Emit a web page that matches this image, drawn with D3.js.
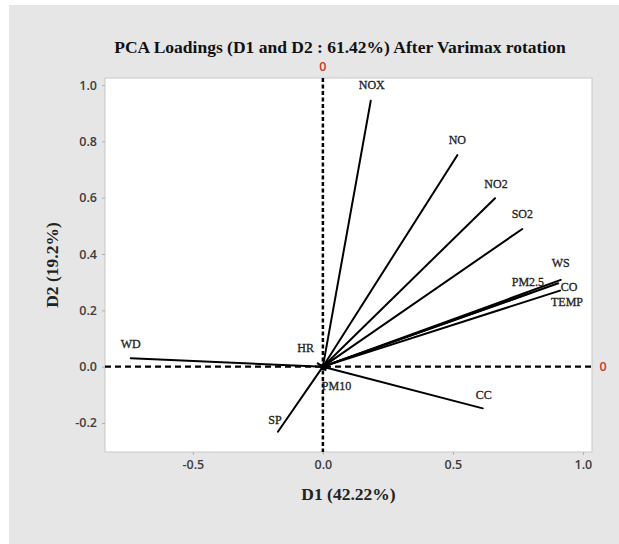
<!DOCTYPE html>
<html><head><meta charset="utf-8">
<script src="https://cdn.jsdelivr.net/npm/d3@7"></script>
<style>body{margin:0;background:#fff;}</style>
</head><body>
<svg id="c" width="619" height="544"></svg>
<script>
const variables = ["NOX","NO","NO2","SO2","WS","CO","PM2.5","TEMP","WD","HR","PM10","SP","CC"];
const d1Loadings = [0.184, 0.517, 0.662, 0.767, 0.915, 0.905, 0.80, 0.912, -0.739, -0.02, 0.01, -0.173, 0.615];
const d2Loadings = [0.944, 0.751, 0.598, 0.489, 0.308, 0.296, 0.262, 0.270, 0.030, 0.012, -0.012, -0.231, -0.148];
const xTicks = [-0.5, 0.0, 0.5, 1.0];
const yTicks = [-0.2, 0.0, 0.2, 0.4, 0.6, 0.8, 1.0];
// label offsets (px) relative to vector end
const labelOffsets = [[1,-16],[0,-15],[1,-14],[0,-15],[0,-17],[11,4],[-3,-11],[7,11],[0,-14],[-12,-15],[11,16],[-3,-12],[1,-13]];

const svg = d3.select("#c");
svg.append("rect").attr("x",9).attr("y",5).attr("width",610).attr("height",539).attr("fill","#e6e6e6");

const L=105, R=592, T=78, B=452;
const x = d3.scaleLinear().domain([-0.838,1.035]).range([L,R]);
const y = d3.scaleLinear().domain([-0.303,1.025]).range([B,T]);

svg.append("rect").attr("x",L).attr("y",T).attr("width",R-L).attr("height",B-T)
  .attr("fill","#fff").attr("stroke","#c8c8c8").attr("stroke-width",1);

const tickFont = "'Open Sans', sans-serif";
const fmt = d => d.toFixed(1);
const xa = svg.append("g").attr("transform",`translate(0,${B})`)
  .call(d3.axisBottom(x).tickValues(xTicks).tickFormat(fmt).tickSize(3).tickPadding(5));
const ya = svg.append("g").attr("transform",`translate(${L},0)`)
  .call(d3.axisLeft(y).tickValues(yTicks).tickFormat(fmt).tickSize(3).tickPadding(5));
[xa,ya].forEach(a=>{
  a.select(".domain").remove();
  a.selectAll(".tick line").attr("stroke","#b0b0b0");
  a.selectAll(".tick text").attr("font-family",tickFont).attr("font-size",12.5).attr("font-weight",600).attr("fill","#3c3c3c");
});

// reference dashed lines
svg.append("line").attr("x1",x(0)).attr("x2",x(0)).attr("y1",T).attr("y2",B)
  .attr("stroke","#000").attr("stroke-width",2.5).attr("stroke-dasharray","4,2.5");
svg.append("line").attr("x1",L).attr("x2",R).attr("y1",y(0)).attr("y2",y(0))
  .attr("stroke","#000").attr("stroke-width",2.2).attr("stroke-dasharray","6,4");

svg.append("text").attr("x",x(0)).attr("y",T-7).attr("text-anchor","middle")
  .attr("font-family",tickFont).attr("font-size",12.5).attr("font-weight",600).attr("fill","#c0392b").text("0");
svg.append("text").attr("x",R+11).attr("y",y(0)+4.5).attr("text-anchor","middle")
  .attr("font-family",tickFont).attr("font-size",12.5).attr("font-weight",600).attr("fill","#c0392b").text("0");

// vectors
const data = variables.map((v,i)=>({name:v, d1:d1Loadings[i], d2:d2Loadings[i], off:labelOffsets[i]}));
svg.append("g").selectAll("line").data(data).join("line")
  .attr("x1",x(0)).attr("y1",y(0)).attr("x2",d=>x(d.d1)).attr("y2",d=>y(d.d2))
  .attr("stroke","#000").attr("stroke-width",2).attr("stroke-linecap","round");
svg.append("circle").attr("cx",x(0)+1).attr("cy",y(0)).attr("r",3.5).attr("fill","#000");

svg.append("g").selectAll("text").data(data).join("text")
  .attr("x",d=>x(d.d1)+d.off[0]).attr("y",d=>y(d.d2)+d.off[1]+4)
  .attr("text-anchor","middle").attr("font-family","'Liberation Serif', serif")
  .attr("font-size",12).attr("fill","#222").attr("stroke","#222").attr("stroke-width",0.3)
  .text(d=>d.name);

// titles
svg.append("text").attr("x",340).attr("y",53).attr("text-anchor","middle")
  .attr("font-family","'Liberation Serif', serif").attr("font-weight","bold").attr("font-size",17.5)
  .attr("fill","#111").text("PCA Loadings (D1 and D2 : 61.42%) After Varimax rotation");
svg.append("text").attr("x",(L+R)/2).attr("y",500).attr("text-anchor","middle")
  .attr("font-family","'Liberation Serif', serif").attr("font-weight","bold").attr("font-size",17.5)
  .attr("fill","#222").text("D1 (42.22%)");
svg.append("text").attr("transform",`translate(58,${(T+B)/2}) rotate(-90)`).attr("text-anchor","middle")
  .attr("font-family","'Liberation Serif', serif").attr("font-weight","bold").attr("font-size",17.5)
  .attr("fill","#222").text("D2 (19.2%)");
</script>
</body></html>
